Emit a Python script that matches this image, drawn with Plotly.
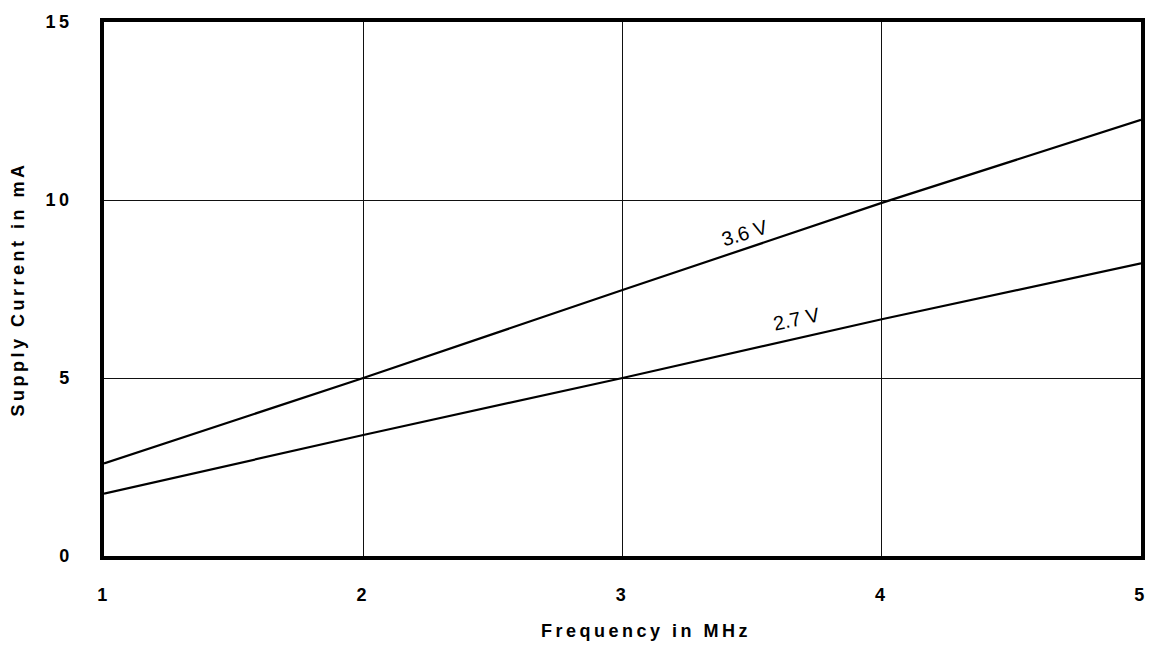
import plotly.graph_objects as go

freq = [1, 2, 3, 4, 5]
i_36 = [2.6, 5.0, 7.47, 9.92, 12.25]
i_27 = [1.75, 3.4, 5.0, 6.65, 8.22]
x_ticks = [1, 2, 3, 4, 5]
y_ticks = [0, 5, 10, 15]

FONT = "Liberation Sans, Arial, Helvetica, sans-serif"
bold = dict(family=FONT, size=18, color="black", weight="bold")

fig = go.Figure()
fig.add_trace(go.Scatter(x=freq, y=i_36, mode="lines", line=dict(color="black", width=2.2), name="3.6 V"))
fig.add_trace(go.Scatter(x=freq, y=i_27, mode="lines", line=dict(color="black", width=2.2), name="2.7 V"))

fig.add_annotation(x=3.47, y=9.08, text="3.6 V", showarrow=False, textangle=-17,
                   font=dict(family=FONT, size=20, color="black"), xref="x", yref="y")
fig.add_annotation(x=3.67, y=6.65, text="2.7 V", showarrow=False, textangle=-12,
                   font=dict(family=FONT, size=20, color="black"), xref="x", yref="y")
fig.add_annotation(x=0.523, y=-0.141, xref="paper", yref="paper", text="Frequency in MHz",
                   showarrow=False, xanchor="center", yanchor="middle", font=bold)

fig.update_layout(
    width=1158, height=649,
    margin=dict(l=104, r=14, t=17, b=93),
    paper_bgcolor="white", plot_bgcolor="white",
    showlegend=False,
    font=dict(family=FONT, color="black"),
    xaxis=dict(range=[1, 5], tickvals=x_ticks, ticktext=[str(v) for v in x_ticks],
               showgrid=True, gridcolor="#111111", gridwidth=1, zeroline=False,
               showline=True, linecolor="black", linewidth=3.5, mirror=True,
               ticks="", tickfont=bold, ticklabelstandoff=20),
    yaxis=dict(range=[0, 15], tickvals=y_ticks, ticktext=[str(v) for v in y_ticks],
               showgrid=True, gridcolor="#111111", gridwidth=1, zeroline=False,
               showline=True, linecolor="black", linewidth=3.5, mirror=True,
               ticks="", tickfont=bold, ticklabelstandoff=24,
               title=dict(text="Supply Current in mA", font=bold, standoff=24)),
)

post = """
document.body.style.margin='0';
document.body.style.overflow='hidden';
var sel = document.querySelectorAll('.xtick text, .ytick text, .ytitle');
sel.forEach(function(t){ t.style.letterSpacing='3.5px'; });
document.querySelectorAll('.annotation-text').forEach(function(t){
  if (t.textContent.indexOf('Frequency') >= 0) { t.style.letterSpacing='3.5px'; }
});
"""
fig.write_html("out.html", post_script=post, config={"displayModeBar": False})
